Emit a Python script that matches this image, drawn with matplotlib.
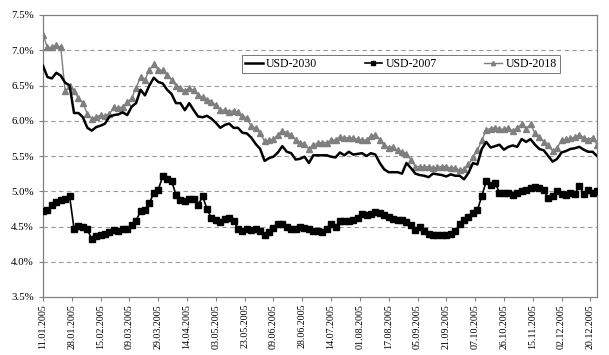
import numpy as np
import matplotlib
matplotlib.use("Agg")
import matplotlib.pyplot as plt
from matplotlib.ticker import FuncFormatter

# trading-day index (every second trading day sampled)
day_index = np.arange(0, 251, 2)

tick_labels = ["11.01.2005", "28.01.2005", "15.02.2005", "09.03.2005", "29.03.2005",
               "14.04.2005", "03.05.2005", "23.05.2005", "09.06.2005", "28.06.2005",
               "14.07.2005", "01.08.2005", "17.08.2005", "05.09.2005", "21.09.2005",
               "07.10.2005", "26.10.2005", "15.11.2005", "02.12.2005", "20.12.2005"]
tick_step = 13

usd_2030 = [6.78, 6.62, 6.60, 6.68, 6.64, 6.54, 6.50, 6.11, 6.11, 6.05,
            5.90, 5.86, 5.91, 5.93, 5.96, 6.06, 6.08, 6.09, 6.12, 6.08,
            6.20, 6.25, 6.44, 6.36, 6.50, 6.61, 6.55, 6.53, 6.44, 6.38,
            6.25, 6.25, 6.15, 6.25, 6.15, 6.06, 6.05, 6.07, 6.03, 5.97,
            5.90, 5.94, 5.96, 5.90, 5.90, 5.83, 5.82, 5.76, 5.67, 5.60,
            5.43, 5.47, 5.49, 5.55, 5.64, 5.56, 5.54, 5.45, 5.46, 5.49,
            5.40, 5.51, 5.51, 5.51, 5.51, 5.49, 5.48, 5.55, 5.51, 5.56,
            5.52, 5.53, 5.54, 5.50, 5.54, 5.52, 5.40, 5.31, 5.27, 5.27,
            5.27, 5.25, 5.40, 5.33, 5.25, 5.23, 5.22, 5.20, 5.25, 5.24,
            5.23, 5.21, 5.24, 5.22, 5.22, 5.17, 5.26, 5.40, 5.38, 5.60,
            5.70, 5.62, 5.64, 5.66, 5.59, 5.63, 5.65, 5.63, 5.74, 5.70,
            5.74, 5.66, 5.60, 5.58, 5.50, 5.42, 5.46, 5.55, 5.57, 5.60,
            5.61, 5.63, 5.59, 5.56, 5.56, 5.50]

usd_2007 = [4.72, 4.73, 4.80, 4.85, 4.87, 4.89, 4.93, 4.47, 4.51, 4.49,
            4.46, 4.32, 4.36, 4.38, 4.40, 4.42, 4.45, 4.44, 4.47, 4.47,
            4.52, 4.58, 4.72, 4.74, 4.83, 4.98, 5.02, 5.21, 5.17, 5.15,
            4.95, 4.87, 4.86, 4.89, 4.89, 4.80, 4.93, 4.75, 4.62, 4.59,
            4.57, 4.60, 4.62, 4.58, 4.47, 4.44, 4.46, 4.45, 4.47, 4.43,
            4.38, 4.42, 4.48, 4.54, 4.54, 4.50, 4.47, 4.47, 4.49, 4.48,
            4.47, 4.44, 4.43, 4.42, 4.47, 4.53, 4.49, 4.58, 4.58, 4.58,
            4.59, 4.62, 4.68, 4.67, 4.68, 4.70, 4.69, 4.67, 4.63, 4.61,
            4.59, 4.59, 4.56, 4.52, 4.45, 4.49, 4.44, 4.40, 4.38, 4.38,
            4.38, 4.38, 4.39, 4.43, 4.53, 4.59, 4.64, 4.69, 4.73, 4.93,
            5.14, 5.09, 5.12, 4.98, 4.98, 4.98, 4.95, 4.97, 5.00, 5.02,
            5.04, 5.06, 5.05, 5.02, 4.90, 4.93, 5.00, 4.96, 4.95, 4.97,
            4.96, 5.08, 4.96, 5.02, 4.98, 5.00]

usd_2018 = [7.22, 7.04, 7.04, 7.07, 7.04, 6.42, 6.49, 6.42, 6.32, 6.25,
            6.10, 6.03, 6.05, 6.08, 6.07, 6.10, 6.19, 6.18, 6.20, 6.26,
            6.32, 6.47, 6.62, 6.58, 6.72, 6.80, 6.72, 6.72, 6.65, 6.58,
            6.50, 6.47, 6.42, 6.46, 6.43, 6.37, 6.33, 6.30, 6.27, 6.22,
            6.15, 6.15, 6.13, 6.14, 6.12, 6.07, 6.04, 5.92, 5.90, 5.82,
            5.71, 5.72, 5.74, 5.80, 5.86, 5.83, 5.80, 5.73, 5.69, 5.67,
            5.60, 5.66, 5.68, 5.69, 5.69, 5.72, 5.73, 5.77, 5.76, 5.76,
            5.75, 5.74, 5.72, 5.73, 5.78, 5.80, 5.73, 5.65, 5.62, 5.63,
            5.58, 5.55, 5.53, 5.45, 5.35, 5.35, 5.34, 5.35, 5.33, 5.34,
            5.35, 5.35, 5.33, 5.33, 5.30, 5.31, 5.38, 5.48, 5.58, 5.72,
            5.87, 5.89, 5.90, 5.88, 5.88, 5.90, 5.85, 5.90, 5.95, 5.89,
            5.95, 5.82, 5.77, 5.70, 5.65, 5.57, 5.62, 5.72, 5.74, 5.75,
            5.77, 5.80, 5.76, 5.73, 5.76, 5.66]

serif = ["Liberation Serif", "DejaVu Serif"]
plt.rcParams["font.family"] = serif

fig = plt.figure(figsize=(6.09, 3.55), dpi=100)
ax = fig.add_axes([43 / 609, 1 - 297 / 355, (597 - 43) / 609, (297 - 15) / 355])

ax.plot(day_index, usd_2030, color="black", lw=1.8, label="USD-2030", zorder=4)
ax.plot(day_index, usd_2007, color="black", lw=1.2, marker="s", ms=3.8,
        label="USD-2007", zorder=3)
ax.plot(day_index, usd_2018, color="#7f7f7f", lw=1.0, marker="^", ms=3.8,
        label="USD-2018", zorder=2)

ax.set_xlim(0, 250)
ax.set_ylim(3.5, 7.5)
ax.set_yticks(np.arange(3.5, 7.51, 0.5))
ax.yaxis.set_major_formatter(FuncFormatter(lambda v, p: f"{v:.1f}%"))
ticks = np.arange(len(tick_labels)) * tick_step
ax.set_xticks(ticks)
ax.set_xticklabels(tick_labels, rotation=90, fontsize=7.2)
ax.tick_params(axis="y", labelsize=7.8, length=3, color="#808080")
ax.tick_params(axis="x", length=3, color="#808080", pad=2)

for v in np.arange(4.0, 7.01, 0.5):
    ax.axhline(v, color="#9a9a9a", lw=0.8, ls=(0, (4, 3)), zorder=1)

for s in ax.spines.values():
    s.set_color("#808080")
    s.set_linewidth(0.9)

leg = ax.legend(loc="lower left", bbox_to_anchor=(0.359, 0.794, 0.574, 0.054),
                mode="expand", ncol=3, fontsize=8.5, frameon=True, fancybox=False,
                handlelength=1.5, handletextpad=0.3, borderpad=0.25, borderaxespad=0,
                markerscale=0.8)
leg.get_frame().set_edgecolor("#555555")
leg.get_frame().set_linewidth(0.7)

fig.savefig("out.png", dpi=100)
